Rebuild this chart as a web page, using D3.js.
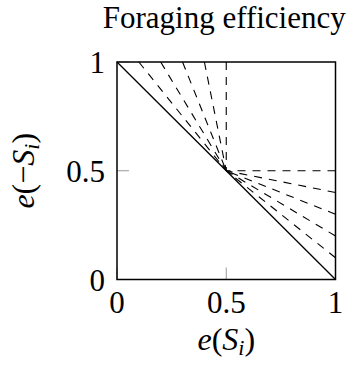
<!DOCTYPE html>
<html>
<head>
<meta charset="utf-8">
<script src="https://cdn.jsdelivr.net/npm/d3@7"></script>
<style>
  body { margin: 0; background: #fff; }
  text { font-family: "Liberation Serif", serif; fill: #000; }
</style>
</head>
<body>
<div id="chart"></div>
<script>
// Data: fan of dashed lines from the centre point to the top and right edges
var centerPoint = [0.5, 0.5];
var topEndsX = [0.1, 0.2, 0.3, 0.4, 0.5];   // x where dashed lines hit y = 1
var rightEndsY = [0.5, 0.4, 0.3, 0.2, 0.1]; // y where dashed lines hit x = 1
var diagonal = [[0, 1], [1, 0]];
var xTicks = [0, 0.5, 1];
var yTicks = [0, 0.5, 1];
var xTickLabels = ["0", "0.5", "1"];
var yTickLabels = ["0", "0.5", "1"];

var svgWidth = 355;
var svgHeight = 367;
var margin = { top: 62, right: 19.5, bottom: 87.5, left: 117 };
var chartWidth = svgWidth - margin.left - margin.right;
var chartHeight = svgHeight - margin.top - margin.bottom;
var fontSize = "31px";

var svg = d3.select("#chart").append("svg")
  .attr("width", svgWidth)
  .attr("height", svgHeight);

var g = svg.append("g")
  .attr("transform", `translate(${margin.left}, ${margin.top})`);

var xScale = d3.scaleLinear().domain([0, 1]).range([0, chartWidth]);
var yScale = d3.scaleLinear().domain([0, 1]).range([chartHeight, 0]);

// inward gray ticks
var tickLen = 12;
g.append("g").selectAll("line")
  .data(xTicks)
  .enter().append("line")
  .attr("x1", d => xScale(d)).attr("x2", d => xScale(d))
  .attr("y1", chartHeight).attr("y2", chartHeight - tickLen)
  .attr("stroke", "#999").attr("stroke-width", 1);

g.append("g").selectAll("line")
  .data(yTicks)
  .enter().append("line")
  .attr("y1", d => yScale(d)).attr("y2", d => yScale(d))
  .attr("x1", 0).attr("x2", tickLen)
  .attr("stroke", "#999").attr("stroke-width", 1);

var line = d3.line().x(d => xScale(d[0])).y(d => yScale(d[1]));

// dashed fan, drawn from the edge inwards so the dash pattern starts at the frame
var fan = topEndsX.map(x => [[x, 1], centerPoint])
  .concat(rightEndsY.map(y => [[1, y], centerPoint]));

g.append("g").selectAll("path")
  .data(fan)
  .enter().append("path")
  .attr("d", line)
  .attr("fill", "none")
  .attr("stroke", "#000")
  .attr("stroke-width", 1.1)
  .attr("stroke-dasharray", "8,7");

// solid diagonal
g.append("path")
  .attr("d", line(diagonal))
  .attr("fill", "none")
  .attr("stroke", "#000")
  .attr("stroke-width", 1.3);

// frame
g.append("rect")
  .attr("x", 0).attr("y", 0)
  .attr("width", chartWidth).attr("height", chartHeight)
  .attr("fill", "none")
  .attr("stroke", "#000")
  .attr("stroke-width", 1.5);

// tick labels
g.append("g").selectAll("text")
  .data(xTicks)
  .enter().append("text")
  .attr("x", d => xScale(d))
  .attr("y", chartHeight + 33)
  .attr("text-anchor", "middle")
  .style("font-size", fontSize)
  .text((d, i) => xTickLabels[i]);

g.append("g").selectAll("text")
  .data(yTicks)
  .enter().append("text")
  .attr("x", -12)
  .attr("y", d => yScale(d) + 11)
  .attr("text-anchor", "end")
  .style("font-size", fontSize)
  .text((d, i) => yTickLabels[i]);

// title
svg.append("text")
  .attr("x", margin.left + chartWidth / 2 - 2)
  .attr("y", 28)
  .attr("text-anchor", "middle")
  .style("font-size", "31px")
  .text("Foraging efficiency");

// x axis label e(S_i)
var xl = svg.append("text")
  .attr("x", margin.left + chartWidth / 2)
  .attr("y", 350)
  .attr("text-anchor", "middle")
  .style("font-size", "32px");
xl.append("tspan").style("font-style", "italic").text("e");
xl.append("tspan").text("(");
xl.append("tspan").style("font-style", "italic").text("S");
xl.append("tspan").style("font-style", "italic").style("font-size", "22px").attr("dy", 5).text("i");
xl.append("tspan").attr("dy", -5).text(")");

// y axis label e(-S_i)
var yl = svg.append("text")
  .attr("transform", `translate(34, ${margin.top + chartHeight / 2}) rotate(-90)`)
  .attr("text-anchor", "middle")
  .style("font-size", "32px");
yl.append("tspan").style("font-style", "italic").text("e");
yl.append("tspan").text("(\u2212");
yl.append("tspan").style("font-style", "italic").text("S");
yl.append("tspan").style("font-style", "italic").style("font-size", "22px").attr("dy", 5).text("i");
yl.append("tspan").attr("dy", -5).text(")");
</script>
</body>
</html>
